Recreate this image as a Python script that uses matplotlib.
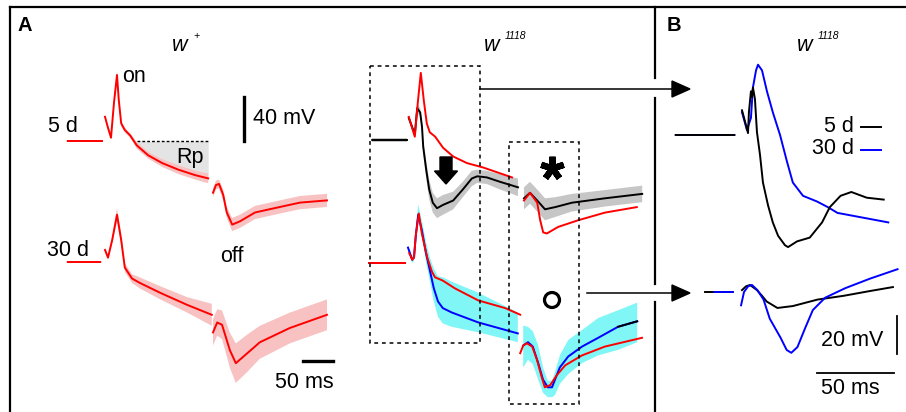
import numpy as np
import matplotlib
matplotlib.use('Agg')
import matplotlib.pyplot as plt
from matplotlib.patches import Rectangle, Circle, FancyArrow, Polygon

plt.rcParams['font.family'] = ['Liberation Sans', 'DejaVu Sans']

nan = np.nan
W, H = 906, 412

# ---- traces, time in ms from light on, voltage in mV from baseline ----
# panel A, w+ 5 d (mean, sd)
W5_T = [-62, -5, nan, 0, 5, 10, 15, 20, 23, 27, 33, 42, 53, 72, 95, 122, 150, 172,
        nan, 180, 185, 190, 197, 203, 212, 225, 250, 283, 325, 370]
W5_V = [0, 0, nan, 22, 12, 3, 35, 60, 37, 16, 10, 5, -4, -13, -20, -26, -31, -34,
        nan, -47, -40, -39, -49, -65, -76, -73, -65, -61, -56, -54]
W5_SD = [1, 1, nan, 1, 1, 1.5, 3, 4, 3, 2.5, 2, 2, 3, 3, 3.5, 4, 4, 4.5,
         nan, 4, 4, 4, 5, 5, 6, 6, 6, 6, 6, 6]
RP_START, RP_END = 53, 172

# panel A, w+ 30 d
W30_T = [-62, -8, nan, 0, 5, 12, 20, 27, 33, 45, 58, 92, 137, 178,
         nan, 180, 187, 195, 208, 218, 237, 258, 308, 370]
W30_V = [0, 0, nan, 11, 4, 20, 43, 20, -5, -15, -19, -28, -39, -48,
         nan, -64, -55, -57, -80, -92, -83, -73, -60, -48]
W30_SD = [1, 1, nan, 1, 2, 3, 6, 5, 4, 4, 5, 6, 7, 10,
          nan, 12, 12, 13, 16, 18, 17, 15, 14, 14]

# panel A, w1118 5 d (black, sd) with w+ 5 d (red)
K5_T = [-63, -5, nan, -2, 8, 12, 17, 20, 22, 27, 32, 38, 45, 55, 72, 88, 103, 112, 128, 150, 180,
        nan, 190, 200, 212, 225, 242, 270, 325, 387]
K5_V = [0, 0, nan, 20, 5, 29, 25, 12, -6, -27, -45, -57, -62, -59, -55, -45, -35, -33, -34, -38, -43,
        nan, -53, -48, -55, -63, -61, -57, -53, -49]
K5_SD = [1.5, 1.5, nan, 2, 3, 4, 4, 5, 6, 8, 9, 9, 9, 9, 8, 7, 7, 6, 6, 7, 8,
         nan, 10, 10, 10, 10, 9, 8, 7.5, 7.5]
R5_T = [-2, 8, 13, 18, 23, 28, 33, 42, 55, 72, 95, 122, 170,
        nan, 190, 200, 212, 217, 222, 228, 247, 280, 325, 378]
R5_V = [21, 3, 34, 61, 36, 15, 7, 3, -7, -15, -21, -25, -34,
        nan, -55, -48, -57, -73, -84, -85, -79, -73, -66, -61]

# panel A, w1118 30 d (blue, band above / below) with w+ 30 d (red)
B30_T = [-65, -5, nan, 0, 7, 10, 13, 17, 23, 30, 37, 43, 50, 58, 73, 117, 183,
         nan, 192, 200, 208, 217, 225, 233, 240, 245, 253, 267, 290, 317, 350, 382]
B30_V = [0, 0, nan, 14, 3, 5, 25, 44, 30, 9, -8, -23, -35, -41, -45, -54, -64,
         nan, -75, -72, -76, -91, -106, -113, -113, -106, -95, -85, -76, -68, -58, -53]
B30_UP = [1, 1, nan, 2, 3, 3, 6, 9, 9, 10, 12, 18, 23, 28, 28, 27, 19,
          nan, 18, 14, 14, 16, 11, 6, 6, 7, 11, 15, 15, 18, 15, 17]
B30_DN = [1, 1, nan, 2, 3, 3, 4, 5, 6, 8, 10, 12, 14, 14, 13, 9, 8,
          nan, 20, 16, 16, 15, 12, 9, 9, 14, 15, 16, 15, 16, 21, 19]
K30_TAIL_T = [350, 382]
K30_TAIL_V = [-58, -53]
RB30_T = [-65, -5, nan, 2, 7, 10, 13, 18, 23, 32, 40, 45, 58, 78, 117, 162, 187,
          nan, 187, 192, 198, 207, 215, 223, 228, 237, 248, 262, 290, 328, 390]
RB30_V = [0, 0, nan, 9, 3, 5, 25, 45, 27, 5, -8, -13, -16, -23, -34, -41, -47,
          nan, -82, -75, -73, -76, -88, -104, -113, -111, -102, -93, -84, -76, -68]

# panel B, w1118 on (top) and off (bottom) transients, 5 d black, 30 d blue
BK_TOP_T = [-43, -5, nan, 0, 2, 3.9, 4.5, 5.8, 6.5, 7.1, 8.4, 9.7, 11.7, 13.6, 16.9, 20,
            23.4, 27.9, 29.9, 35.7, 44, 52, 57, 64, 71, 81, 92]
BK_TOP_V = [0, 0, nan, 13, 7, 1, 12, 23, 20, 25, 19, 1.6, -10.5, -25, -37, -46,
            -53, -58, -59, -56, -54, -46, -38, -32, -30, -33, -34]
BL_TOP_T = [-43, -5, nan, 0, 3.2, 5.8, 7.1, 9.1, 10.4, 13, 16.2, 20, 24.7, 29.2, 33,
            39.6, 48.7, 55.8, 62, 95]
BL_TOP_V = [0, 0, nan, 12, 2.6, 9, 25, 34, 37, 34, 23, 12, 0, -14, -25,
            -32, -35, -38, -41, -46]
BK_BOT_T = [-24, -6, nan, 0, 2.6, 5.2, 9.7, 13, 16, 23, 33, 49, 66, 83, 98]
BK_BOT_V = [0, 0, nan, 1, 3, 3.7, 1, -2, -5, -8.4, -7.4, -4, -2, 0.5, 2.6]
BL_BOT_T = [-18, -6, nan, -0.6, 1.3, 4, 6.5, 10, 14, 18, 25, 29, 32, 36, 41, 46, 54,
            67, 83, 101]
BL_BOT_V = [0, 0, nan, -7, 0, 3, 3.7, 1, -4, -14, -24, -30.5, -32, -29, -19, -9.5, -3,
            2, 7, 12]

RED, PINK = '#ff0000', '#f8c2c2'
GREY = '#c6c6c6'
BLUE, CYAN = '#0000ff', '#80f6f6'

fig = plt.figure(figsize=(W / 100, H / 100), dpi=100)


def trace_axes(x0, y0, px_per_ms, px_per_mv):
    # full-figure axes whose origin (t=0, v=0) sits at pixel (x0, y0)
    ax = fig.add_axes([0, 0, 1, 1])
    ax.set_xlim(-x0 / px_per_ms, (W - x0) / px_per_ms)
    ax.set_ylim(-(H - y0) / px_per_mv, y0 / px_per_mv)
    ax.axis('off')
    return ax


def draw(ax, t, v, color, lo=None, hi=None, shade=None, lw=1.4, z=3):
    t = np.array(t, float)
    v = np.array(v, float)
    if lo is not None:
        ax.fill_between(t, v - np.array(lo, float), v + np.array(hi, float),
                        color=shade, lw=0, zorder=z - 1)
    ax.plot(t, v, color=color, lw=lw, zorder=z, solid_joinstyle='round')


# w+ group
a1 = trace_axes(105, 141, 0.6, 1.1)
t = np.array(W5_T, float)
v = np.array(W5_V, float)
rp = (t >= RP_START) & (t <= RP_END)
a1.fill_between(t[rp], v[rp], 0, color='#e4e4e4', lw=0, zorder=1)
a1.plot([RP_START, RP_END], [0, 0], color='k', lw=1, ls=(0, (2, 1.5)), zorder=1)
draw(a1, W5_T, W5_V, RED, W5_SD, W5_SD, PINK)
a1.plot([232, 232], [0, 40], color='k', lw=2.4)

a2 = trace_axes(105, 262, 0.6, 1.1)
draw(a2, W30_T, W30_V, RED, W30_SD, W30_SD, PINK)
a2.plot([330, 380], [-90, -90], color='k', lw=2.4)

# w1118 group
a3 = trace_axes(410, 140, 0.6, 1.1)
draw(a3, K5_T, K5_V, 'k', K5_SD, K5_SD, GREY)
draw(a3, R5_T, R5_V, RED, z=4)

a4 = trace_axes(408, 263, 0.6, 1.1)
draw(a4, B30_T, B30_V, BLUE, B30_DN, B30_UP, CYAN)
a4.plot(K30_TAIL_T, K30_TAIL_V, color='k', lw=1.4, zorder=3)
draw(a4, RB30_T, RB30_V, RED, z=4)

# panel B
b1 = trace_axes(742, 135, 1.54, 1.9)
draw(b1, BL_TOP_T, BL_TOP_V, BLUE)
draw(b1, BK_TOP_T, BK_TOP_V, 'k', z=4)

b2 = trace_axes(742, 292, 1.54, 1.9)
draw(b2, BK_BOT_T, BK_BOT_V, 'k')
draw(b2, BL_BOT_T, BL_BOT_V, BLUE, z=4)
b2.plot([100.5, 100.5], [-12.6, -32.6], color='k', lw=1.3)
b2.plot([49, 98.5], [-42.6, -42.6], color='k', lw=1.3)

# ---- overlay in pixel units: frame, boxes, arrows, labels ----
ov = fig.add_axes([0, 0, 1, 1], zorder=10)
ov.set_xlim(0, W)
ov.set_ylim(H, 0)
ov.axis('off')
ov.patch.set_visible(False)

ov.plot([10, W], [7, 7], color='k', lw=1.6)
ov.plot([10, 10], [7, H], color='k', lw=1.6)
for y_a, y_b in [(7, 78), (98, 284), (302, H)]:
    ov.plot([655, 655], [y_a, y_b], color='k', lw=1.6)

for (x, y, w, h) in [(370, 66, 110, 277), (509, 142, 70, 262)]:
    ov.add_patch(Rectangle((x, y), w, h, fill=False, ec='k', lw=1.1,
                           ls=(0, (2.5, 2.5))))

ov.plot([480, 673], [89, 89], color='k', lw=1.1)
ov.add_patch(Polygon([(672, 81), (690, 89), (672, 97)], color='k'))
ov.plot([587, 673], [293, 293], color='k', lw=1.1)
ov.add_patch(Polygon([(672, 285), (690, 293), (672, 301)], color='k'))

ov.add_patch(FancyArrow(446, 157, 0, 27, width=12, head_width=23, head_length=13,
                        length_includes_head=True, color='k'))
ov.plot([552], [168], marker=(5, 2, 0), ms=17, mew=4.5, color='k')
ov.add_patch(Circle((552, 300), 7.5, fill=False, ec='k', lw=2.3))

fs = 15.5
ov.text(18, 25, 'A', fontsize=14.5, fontweight='bold', va='center')
ov.text(667, 25, 'B', fontsize=14.5, fontweight='bold', va='center')
for x, sup in [(172, '+'), (484, '1118'), (797, '1118')]:
    ov.text(x, 45, 'w', fontsize=fs, style='italic', va='center')
    ov.text(x + 21, 36, sup, fontsize=7.5, style='italic', va='center')

ov.text(122, 76, 'on', fontsize=fs, va='center')
ov.text(48, 126, '5 d', fontsize=fs, va='center')
ov.text(253, 118, '40 mV', fontsize=fs, va='center')
ov.text(176, 157, 'Rp', fontsize=fs, va='center')
ov.text(47, 251, '30 d', fontsize=fs, va='center')
ov.text(220, 256, 'off', fontsize=fs, va='center')
ov.text(275, 382, '50 ms', fontsize=fs, va='center')

ov.text(854, 126, '5 d', fontsize=fs, va='center', ha='right')
ov.text(854, 149, '30 d', fontsize=fs, va='center', ha='right')
ov.plot([861, 881], [127, 127], color='k', lw=1.4)
ov.plot([861, 881], [150, 150], color=BLUE, lw=1.4)
ov.text(821, 340, '20 mV', fontsize=fs, va='center')
ov.text(821, 388, '50 ms', fontsize=fs, va='center')

fig.savefig('out.png', dpi=100)
